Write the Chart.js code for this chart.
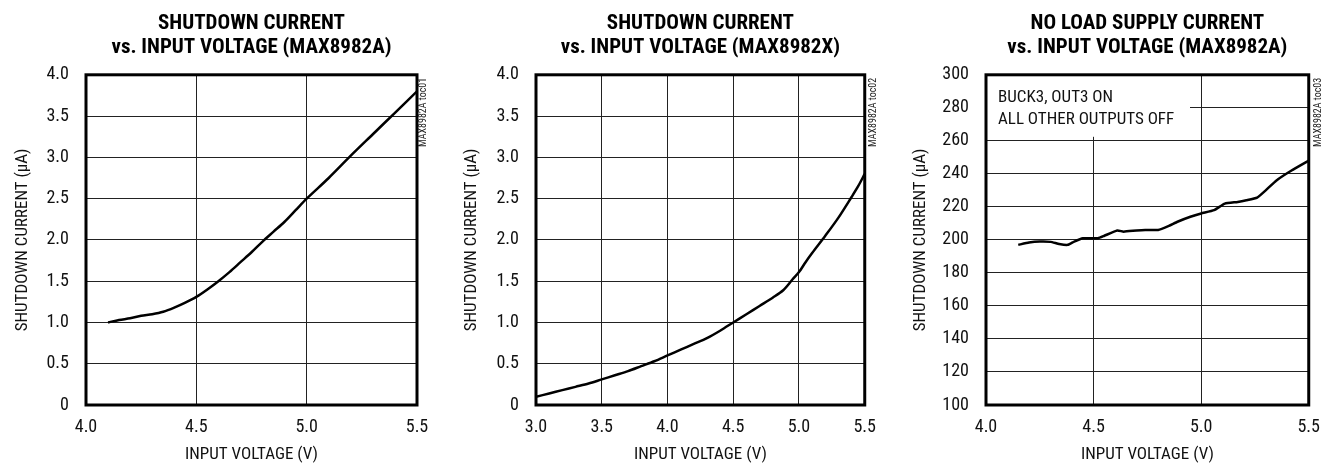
<!DOCTYPE html>
<html>
<head>
<meta charset="utf-8">
<script src="https://cdn.jsdelivr.net/npm/chart.js@4.4.1/dist/chart.umd.min.js"></script>
<style>
  html, body { margin: 0; padding: 0; background: #fff; }
  .panel { position: absolute; top: 0; width: 444px; height: 463px; }
</style>
</head>
<body>
<div class="panel" style="left:0"><canvas id="toc01"></canvas></div>
<div class="panel" style="left:444px"><canvas id="toc02"></canvas></div>
<div class="panel" style="left:888px"><canvas id="toc03"></canvas></div>
<script>
// TOC01 - shutdown current, MAX8982A
const voltA = [4.1, 4.15, 4.2, 4.25, 4.3, 4.35, 4.4, 4.45, 4.5, 4.55, 4.6, 4.65, 4.7, 4.75, 4.8, 4.85, 4.9, 4.95, 5.0, 5.1, 5.2, 5.3, 5.4, 5.5];
const shdnA = [1.0, 1.03, 1.05, 1.08, 1.1, 1.13, 1.18, 1.24, 1.31, 1.4, 1.5, 1.61, 1.73, 1.85, 1.98, 2.1, 2.22, 2.36, 2.5, 2.75, 3.02, 3.28, 3.54, 3.8];

// TOC02 - shutdown current, MAX8982X
const voltX = [3.0, 3.1, 3.2, 3.3, 3.4, 3.5, 3.6, 3.7, 3.8, 3.9, 4.0, 4.1, 4.2, 4.3, 4.4, 4.5, 4.6, 4.7, 4.8, 4.88, 4.95, 5.0, 5.05, 5.1, 5.2, 5.3, 5.4, 5.45, 5.5];
const shdnX = [0.10, 0.14, 0.18, 0.22, 0.26, 0.31, 0.36, 0.41, 0.47, 0.53, 0.60, 0.67, 0.74, 0.81, 0.90, 1.0, 1.1, 1.2, 1.3, 1.39, 1.52, 1.61, 1.73, 1.84, 2.05, 2.27, 2.52, 2.65, 2.80];

// TOC03 - no load supply current, MAX8982A
const voltNL = [4.15, 4.2, 4.25, 4.3, 4.34, 4.38, 4.41, 4.45, 4.52, 4.55, 4.61, 4.64, 4.7, 4.74, 4.8, 4.85, 4.89, 4.95, 5.0, 5.06, 5.11, 5.17, 5.21, 5.26, 5.3, 5.35, 5.42, 5.5];
const supplyNL = [197, 198.4, 199, 198.8, 197.5, 197, 199, 201, 201, 202.5, 205.7, 205, 205.7, 206, 206, 208.5, 211, 214, 216, 218, 222, 223, 224, 225.6, 230, 236, 242, 248];

const FONT = "'Liberation Sans Narrow', 'Roboto Condensed', 'DejaVu Sans Condensed', sans-serif";

const framePlugin = {
  id: 'frame',
  afterDraw(chart, args, opts) {
    const { ctx, chartArea: a } = chart;
    ctx.save();
    ctx.strokeStyle = '#000';
    ctx.lineWidth = 3;
    ctx.strokeRect(a.left, a.top, a.right - a.left, a.bottom - a.top);
    // part number tag on the right edge
    ctx.translate(a.right + opts.tagX, a.top + 3);
    ctx.rotate(-Math.PI / 2);
    ctx.fillStyle = '#222';
    ctx.font = '10px ' + FONT;
    ctx.textAlign = 'right';
    ctx.textBaseline = 'middle';
    ctx.fillText(opts.tag, 0, 0);
    ctx.restore();
  }
};

const notePlugin = {
  id: 'note',
  beforeDatasetsDraw(chart, args, opts) {
    if (!opts.lines) return;
    const { ctx, chartArea: a } = chart;
    ctx.save();
    ctx.fillStyle = '#fff';
    ctx.fillRect(a.left + 1, a.top + 1, opts.width, opts.height);
    ctx.fillStyle = '#111';
    ctx.font = '17px ' + FONT;
    ctx.textBaseline = 'middle';
    opts.lines.forEach((t, i) => ctx.fillText(t, a.left + 12, a.top + 23 + i * 22));
    ctx.restore();
  }
};

function makeChart(id, cfg) {
  return new Chart(document.getElementById(id), {
    type: 'line',
    data: {
      datasets: [{
        data: cfg.xs.map((x, i) => ({ x: x, y: cfg.ys[i] })),
        borderColor: '#000',
        borderWidth: 2.5,
        pointRadius: 0,
        tension: cfg.tension,
        fill: false
      }]
    },
    options: {
      responsive: true,
      maintainAspectRatio: false,
      animation: false,
      layout: { padding: { left: 0, right: cfg.rightPad, top: 0, bottom: 0 } },
      plugins: {
        legend: { display: false },
        tooltip: { enabled: false },
        title: {
          display: true,
          fullSize: false,
          text: cfg.title,
          color: '#000',
          font: { family: FONT, size: 21, weight: 'bold', lineHeight: 1.15 },
          padding: { top: 12, bottom: 14.5 }
        },
        frame: { tag: cfg.tag, tagX: cfg.tagX },
        note: cfg.note || {}
      },
      scales: {
        x: {
          type: 'linear',
          min: cfg.xMin, max: 5.5,
          afterFit: s => { s.height = 58; },
          grid: { color: '#222', lineWidth: 1, drawTicks: false },
          border: { display: false },
          ticks: {
            stepSize: 0.5, padding: 12, color: '#111',
            font: { family: FONT, size: 18 },
            callback: v => v.toFixed(1)
          },
          title: {
            display: true, text: 'INPUT VOLTAGE (V)', color: '#111',
            font: { family: FONT, size: 17 }, padding: { top: 0, bottom: -2 }
          }
        },
        y: {
          min: cfg.yMin, max: cfg.yMax,
          afterFit: s => { s.width = cfg.plotLeft; },
          grid: { color: '#222', lineWidth: 1, drawTicks: false },
          border: { display: false },
          ticks: {
            stepSize: cfg.yStep, padding: 17, color: '#111',
            font: { family: FONT, size: 18 },
            callback: cfg.yFmt
          },
          title: {
            display: true, text: cfg.yTitle, color: '#111',
            font: { family: FONT, size: 17 }, padding: { top: cfg.yTitlePad, bottom: 0 }
          }
        }
      }
    },
    plugins: [framePlugin, notePlugin]
  });
}

const fmtHalf = v => (v === 0 ? '0' : v.toFixed(1));

makeChart('toc01', {
  xs: voltA, ys: shdnA, tension: 0.3,
  title: ['SHUTDOWN CURRENT', 'vs. INPUT VOLTAGE (MAX8982A)'],
  tag: 'MAX8982A toc01', tagX: 6.5,
  xMin: 4.0, yMin: 0, yMax: 4.0, yStep: 0.5, yFmt: fmtHalf,
  yTitle: 'SHUTDOWN CURRENT (\u00B5A)',
  plotLeft: 86, rightPad: 27, yTitlePad: 13
});

makeChart('toc02', {
  xs: voltX, ys: shdnX, tension: 0.3,
  title: ['SHUTDOWN CURRENT', 'vs. INPUT VOLTAGE (MAX8982X)'],
  tag: 'MAX8982A toc02', tagX: 8.5,
  xMin: 3.0, yMin: 0, yMax: 4.0, yStep: 0.5, yFmt: fmtHalf,
  yTitle: 'SHUTDOWN CURRENT (\u00B5A)',
  plotLeft: 92, rightPad: 21, yTitlePad: 18
});

makeChart('toc03', {
  xs: voltNL, ys: supplyNL, tension: 0.15,
  title: ['NO LOAD SUPPLY CURRENT', 'vs. INPUT VOLTAGE (MAX8982A)'],
  tag: 'MAX8982A toc03', tagX: 10,
  xMin: 4.0, yMin: 100, yMax: 300, yStep: 20, yFmt: v => String(v),
  yTitle: 'SHUTDOWN CURRENT (\u00B5A)',
  plotLeft: 98, rightPad: 16, yTitlePad: 23,
  note: { lines: ['BUCK3, OUT3 ON', 'ALL OTHER OUTPUTS OFF'], width: 203, height: 61 }
});
</script>
</body>
</html>
